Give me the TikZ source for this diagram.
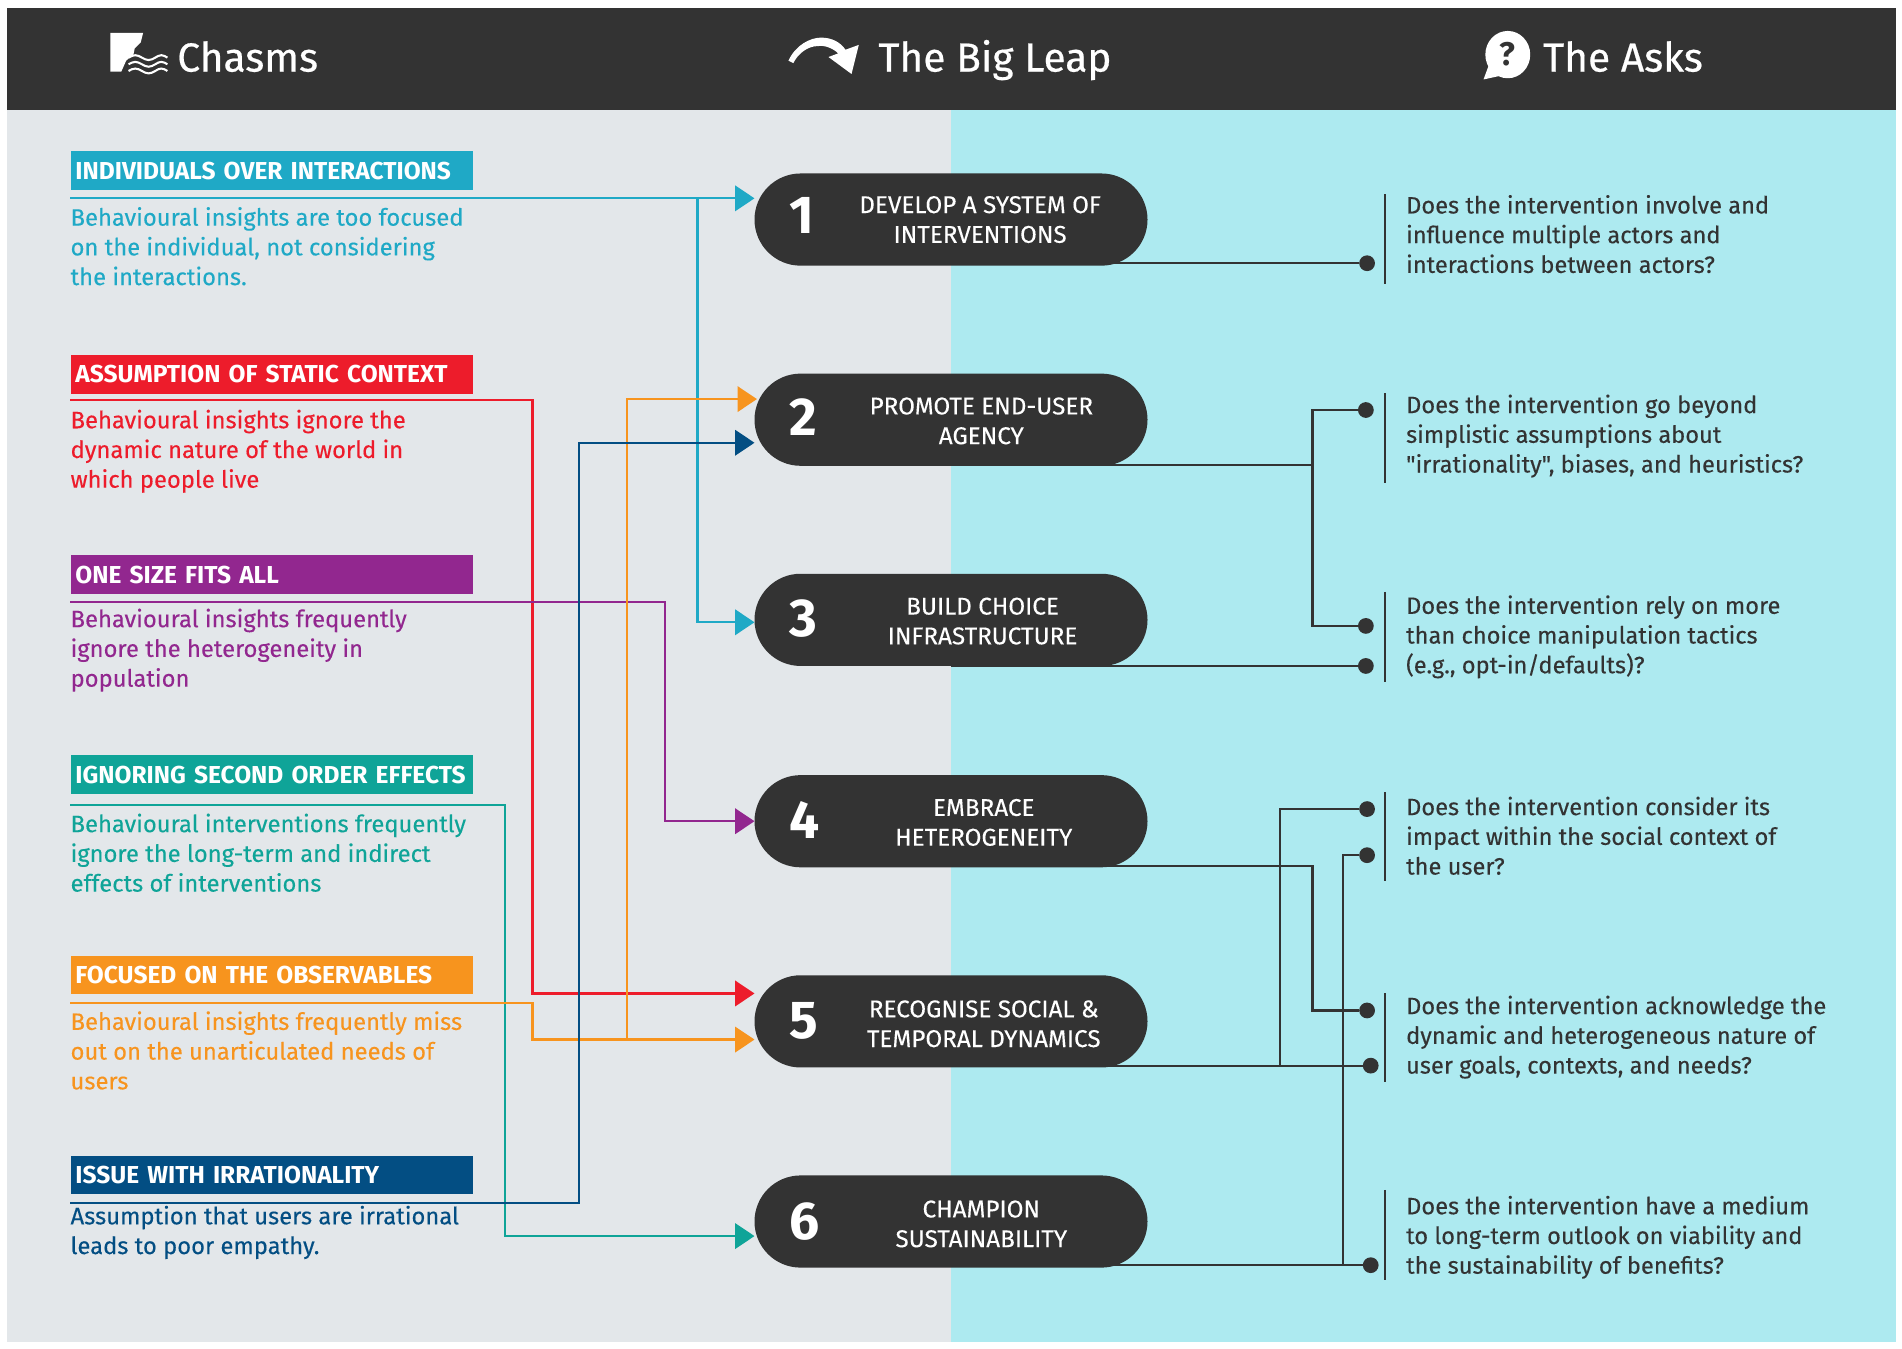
\documentclass[tikz,border=0pt]{standalone}
\usepackage{fontspec}
\setmainfont{Fira Sans}
\newfontfamily\regfont[FakeBold=0.2]{Fira Sans}
\newfontfamily\headfont[FakeBold=0.5]{Fira Sans}
\usetikzlibrary{arrows.meta}
\definecolor{darkbar}{HTML}{333333}
\definecolor{greypanel}{HTML}{E3E7EA}
\definecolor{cyanpanel}{HTML}{ADEAF0}
\definecolor{cBlue}{HTML}{1FA9C6}
\definecolor{cRed}{HTML}{ED1C2B}
\definecolor{cPurple}{HTML}{92278F}
\definecolor{cTeal}{HTML}{0FA498}
\definecolor{cOrange}{HTML}{F7941E}
\definecolor{cNavy}{HTML}{034E83}
\tikzset{
  headtext/.style={text=white, anchor=base west, inner sep=0pt, font=\headfont\fontsize{33.5}{36}\selectfont},
  chasmbar/.style={anchor=north west, minimum height=32pt, text width=324pt, inner sep=4pt, align=left, text=white, font=\fontsize{20.2}{24}\selectfont\bfseries},
  chasmtext/.style={anchor=west, inner sep=0pt, align=left, font=\regfont\fontsize{19.6}{24.5}\selectfont},
  pill/.style={fill=darkbar, rounded corners=38pt, minimum width=324pt, minimum height=76pt, inner sep=0pt},
  pillnum/.style={text=white, inner sep=0pt, font=\fontsize{44}{46}\selectfont\bfseries},
  pilltext/.style={text=white, inner sep=0pt, align=center, font=\regfont\fontsize{20}{24.5}\selectfont},
  asktext/.style={text=darkbar, anchor=west, inner sep=0pt, align=left, font=\regfont\fontsize{19.5}{24.5}\selectfont},
  dot/.style={circle, fill=darkbar, minimum size=13pt, inner sep=0pt},
  askline/.style={draw=darkbar, line width=1.8pt},
  askbar/.style={draw=darkbar, line width=1.6pt},
  link/.style={line width=1.8pt},
}
\begin{document}
\begin{tikzpicture}[>={Triangle[length=16pt,width=21pt]}, x=1pt, y=-1pt]
\useasboundingbox (0,0) rectangle (1568,1112);
% panels
\fill[greypanel] (6,90.5) rectangle (784,1106);
\fill[cyanpanel] (784,90.5) rectangle (1563,1106);
\fill[darkbar] (6,7) rectangle (1563,90.5);

% header
\fill[white] (91,27)--(118,27)--(116,35)--(111,40)--(110,45)--(104,50)--(100,59)--(91,59)--cycle;
\foreach \wy in {47.5,53,58.5}
  \draw[white, line width=1.7pt] (106,\wy) sin (111.5,\wy-2) cos (117,\wy) sin (122.5,\wy+2) cos (128,\wy) sin (133,\wy-2) cos (138,\wy);
\node[headtext] (hChasms) at (146,59) {Chasms};
\fill[white] (650,50) .. controls (656,37) and (668,31) .. (677,31) .. controls (686,31) and (693,35) .. (697,41) -- (708,37) -- (702,61) -- (683,47) -- (691,44) .. controls (687,40) and (680,37) .. (674,38) .. controls (666,38) and (658,44) .. (654,52) -- cycle;
\node[headtext] (hLeap) at (724,59) {The Big Leap};
\fill[white] (1243,45) ellipse [x radius=18.5, y radius=19.5];
\fill[white] (1228,52)--(1223,65.5)--(1239,62)--cycle;
\node[text=darkbar, inner sep=0pt, font=\fontsize{27}{28}\selectfont\bfseries] (hMark) at (1243,45) {?};
\node[headtext] (hAsks) at (1272,59) {The Asks};

% chasms
\node[chasmbar, fill=cBlue] (barA) at (58,124.5) {INDIVIDUALS OVER INTERACTIONS};
\node[chasmtext, text=cBlue] (txtA) at (58,203) {Behavioural insights are too focused\\on the individual, not considering\\the interactions.};
\node[chasmbar, fill=cRed] (barB) at (58,292.5) {ASSUMPTION OF STATIC CONTEXT};
\node[chasmtext, text=cRed] (txtB) at (58,372) {Behavioural insights ignore the\\dynamic nature of the world in\\which people live};
\node[chasmbar, fill=cPurple] (barC) at (58,457.5) {ONE SIZE FITS ALL};
\node[chasmtext, text=cPurple] (txtC) at (58,536) {Behavioural insights frequently\\ignore the heterogeneity in\\population};
\node[chasmbar, fill=cTeal] (barD) at (58,622.5) {IGNORING SECOND ORDER EFFECTS};
\node[chasmtext, text=cTeal] (txtD) at (58,703) {Behavioural interventions frequently\\ignore the long-term and indirect\\effects of interventions};
\node[chasmbar, fill=cOrange] (barE) at (58,787.5) {FOCUSED ON THE OBSERVABLES};
\node[chasmtext, text=cOrange] (txtE) at (58,866) {Behavioural insights frequently miss\\out on the unarticulated needs of\\users};
\node[chasmbar, fill=cNavy] (barF) at (58,952.5) {ISSUE WITH IRRATIONALITY};
\node[chasmtext, text=cNavy] (txtF) at (58,1016) {Assumption that users are irrational\\leads to poor empathy.};

% leaps
\node[pill] (pill1) at (784,181) {};
\node[pill] (pill2) at (784,346) {};
\node[pill] (pill3) at (784,511) {};
\node[pill] (pill4) at (784,677) {};
\node[pill] (pill5) at (784,842) {};
\node[pill] (pill6) at (784,1007) {};
\node[pillnum] (num1) at (661,178) {1};
\node[pillnum] (num2) at (662,344) {2};
\node[pillnum] (num3) at (662,510) {3};
\node[pillnum] (num4) at (663,676) {4};
\node[pillnum] (num5) at (663,842) {5};
\node[pillnum] (num6) at (663,1007) {6};
\node[pilltext] (lab1) at (808,181) {DEVELOP A SYSTEM OF\\INTERVENTIONS};
\node[pilltext] (lab2) at (809,347) {PROMOTE END-USER\\AGENCY};
\node[pilltext] (lab3) at (810,512) {BUILD CHOICE\\INFRASTRUCTURE};
\node[pilltext] (lab4) at (811,678) {EMBRACE\\HETEROGENEITY};
\node[pilltext] (lab5) at (811,844) {RECOGNISE SOCIAL \&\\TEMPORAL DYNAMICS};
\node[pilltext] (lab6) at (809,1009) {CHAMPION\\SUSTAINABILITY};

% chasm to leap
\coordinate (sA) at (58,163.5);
\coordinate (sB) at (58,330);
\coordinate (sC) at (58,496.5);
\coordinate (sD) at (58,663.5);
\coordinate (sE) at (58,827);
\coordinate (sF) at (58,992);
\coordinate (tA) at (622,163.5);
\coordinate (tA3) at (622,513);
\coordinate (tB) at (622,819);
\coordinate (tC) at (622,677);
\coordinate (tD) at (622,1019);
\coordinate (tE) at (622,857);
\coordinate (tE2) at (624,329);
\coordinate (tF) at (622,365);
\draw[link, cBlue, ->] (sA)--(tA);
\draw[link, cBlue, ->] (575,163.5)--(575,513)--(tA3);
\draw[link, cRed, ->] (sB)--(439,330)--(439,819)--(tB);
\draw[link, cPurple, ->] (sC)--(548,496.5)--(548,677)--(tC);
\draw[link, cTeal, ->] (sD)--(416,663.5)--(416,1019)--(tD);
\draw[link, cOrange, ->] (sE)--(439,827)--(439,857)--(tE);
\draw[link, cOrange, ->] (517,857)--(517,329)--(tE2);
\draw[link, cNavy, ->] (sF)--(477,992)--(477,365)--(tF);

% asks
\node[dot] (dot1) at (1127,217) {};
\node[dot] (dot2) at (1126,338) {};
\node[dot] (dot3a) at (1126,516) {};
\node[dot] (dot3b) at (1126,549) {};
\node[dot] (dot4a) at (1127,667) {};
\node[dot] (dot4b) at (1127,705) {};
\node[dot] (dot5a) at (1127,833) {};
\node[dot] (dot5b) at (1130,878.5) {};
\node[dot] (dot6) at (1130,1043) {};
\draw[askline] (pill1 |- dot1)--(dot1);
\draw[askline] (pill2.center |- 0,383)--(1082,383);
\draw[askline] (dot2)--(1082,338)--(1082,516)--(dot3a);
\draw[askline] (pill3 |- dot3b)--(dot3b);
\draw[askline] (pill4.center |- 0,714)--(1082,714)--(1082,833)--(dot5a);
\draw[askline] (pill5 |- dot5b)--(dot5b);
\draw[askline] (1055,878.5)--(1055,667)--(dot4a);
\draw[askline] (pill6 |- dot6)--(dot6);
\draw[askline] (1107,1043)--(1107,705)--(dot4b);
\draw[askbar] (1142,160)--(1142,234);
\draw[askbar] (1142,324)--(1142,398);
\draw[askbar] (1142,488)--(1142,562);
\draw[askbar] (1142,653)--(1142,726);
\draw[askbar] (1142,819)--(1142,892);
\draw[askbar] (1142,981)--(1142,1055);
\node[asktext] (ask1) at (1159,193) {Does the intervention involve and\\influence multiple actors and\\interactions between actors?};
\node[asktext] (ask2) at (1159,359.5) {Does the intervention go beyond\\simplistic assumptions about\\"irrationality", biases, and heuristics?};
\node[asktext] (ask3) at (1159,525) {Does the intervention rely on more\\than choice manipulation tactics\\(e.g., opt-in/defaults)?};
\node[asktext] (ask4) at (1159,689) {Does the intervention consider its\\impact within the social context of\\the user?};
\node[asktext] (ask5) at (1159,855) {Does the intervention acknowledge the\\dynamic and heterogeneous nature of\\user goals, contexts, and needs?};
\node[asktext] (ask6) at (1159,1020) {Does the intervention have a medium\\to long-term outlook on viability and\\the sustainability of benefits?};
\end{tikzpicture}
\end{document}
